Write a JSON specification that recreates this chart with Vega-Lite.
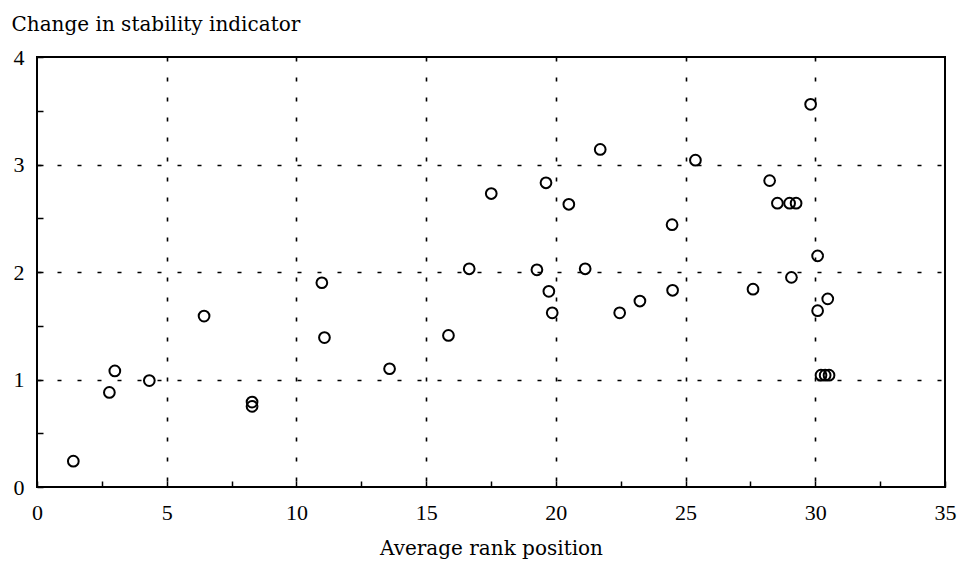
{
  "$schema": "https://vega.github.io/schema/vega-lite/v6.json",
  "width": 908,
  "height": 430,
  "autosize": {"type": "none"},
  "padding": {"left": 37, "top": 57, "right": 15, "bottom": 77},
  "background": "white",
  "config": {
    "view": {"stroke": "black", "strokeWidth": 2},
    "font": "Liberation Serif"
  },
  "data": {
    "values": [
      {"rank": 1.40, "change": 0.24},
      {"rank": 2.79, "change": 0.88},
      {"rank": 3.00, "change": 1.08},
      {"rank": 4.33, "change": 0.99},
      {"rank": 6.44, "change": 1.59},
      {"rank": 8.29, "change": 0.79},
      {"rank": 8.29, "change": 0.75},
      {"rank": 10.98, "change": 1.90},
      {"rank": 11.08, "change": 1.39},
      {"rank": 13.59, "change": 1.10},
      {"rank": 15.86, "change": 1.41},
      {"rank": 16.66, "change": 2.03},
      {"rank": 17.51, "change": 2.73},
      {"rank": 19.27, "change": 2.02},
      {"rank": 19.62, "change": 2.83},
      {"rank": 19.73, "change": 1.82},
      {"rank": 19.86, "change": 1.62},
      {"rank": 20.50, "change": 2.63},
      {"rank": 21.13, "change": 2.03},
      {"rank": 21.71, "change": 3.14},
      {"rank": 22.46, "change": 1.62},
      {"rank": 23.24, "change": 1.73},
      {"rank": 24.48, "change": 2.44},
      {"rank": 24.50, "change": 1.83},
      {"rank": 25.38, "change": 3.04},
      {"rank": 27.60, "change": 1.84},
      {"rank": 28.24, "change": 2.85},
      {"rank": 28.54, "change": 2.64},
      {"rank": 29.01, "change": 2.64},
      {"rank": 29.26, "change": 2.64},
      {"rank": 29.08, "change": 1.95},
      {"rank": 29.82, "change": 3.56},
      {"rank": 30.09, "change": 2.15},
      {"rank": 30.09, "change": 1.64},
      {"rank": 30.48, "change": 1.75},
      {"rank": 30.22, "change": 1.04},
      {"rank": 30.38, "change": 1.04},
      {"rank": 30.53, "change": 1.04}
    ]
  },
  "mark": {"type": "point", "shape": "circle", "filled": false, "stroke": "black", "strokeWidth": 2, "size": 115, "opacity": 1},
  "encoding": {
    "x": {
      "field": "rank",
      "type": "quantitative",
      "scale": {"domain": [0, 35], "nice": false, "zero": false},
      "axis": {
        "title": "Average rank position",
        "titleFont": "DejaVu Serif",
        "titleFontSize": 20,
        "titleFontWeight": "normal",
        "titleColor": "black",
        "titlePadding": 15,
        "values": [0, 2.5, 5, 7.5, 10, 12.5, 15, 17.5, 20, 22.5, 25, 27.5, 30, 32.5, 35],
        "labelExpr": "datum.value % 5 == 0 ? format(datum.value, 'd') : ''",
        "labelFont": "Liberation Serif",
        "labelFontSize": 22,
        "labelColor": "black",
        "labelPadding": 21,
        "labelFlush": false,
        "domain": false,
        "ticks": true,
        "tickSize": -6,
        "tickColor": "black",
        "tickWidth": 1.5,
        "grid": true,
        "gridColor": "black",
        "gridDash": [4, 16],
        "gridWidth": 1.6,
        "gridOpacity": {"condition": {"test": "datum.value % 5 == 0 && datum.value > 0 && datum.value < 35", "value": 1}, "value": 0}
      }
    },
    "y": {
      "field": "change",
      "type": "quantitative",
      "scale": {"domain": [0, 4], "nice": false},
      "axis": {
        "title": "Change in stability indicator",
        "titleFont": "DejaVu Serif",
        "titleFontSize": 20,
        "titleFontWeight": "normal",
        "titleColor": "black",
        "titleAngle": 0,
        "titleAlign": "left",
        "titleBaseline": "alphabetic",
        "titleX": -26,
        "titleY": -27,
        "values": [0, 0.5, 1, 1.5, 2, 2.5, 3, 3.5, 4],
        "labelExpr": "datum.value % 1 == 0 ? format(datum.value, 'd') : ''",
        "labelFont": "Liberation Serif",
        "labelFontSize": 22,
        "labelColor": "black",
        "labelPadding": 19,
        "labelFlush": false,
        "domain": false,
        "ticks": true,
        "tickSize": -6,
        "tickColor": "black",
        "tickWidth": 1.5,
        "grid": true,
        "gridColor": "black",
        "gridDash": [4, 16],
        "gridWidth": 1.6,
        "gridOpacity": {"condition": {"test": "datum.value % 1 == 0 && datum.value > 0 && datum.value < 4", "value": 1}, "value": 0}
      }
    }
  }
}
